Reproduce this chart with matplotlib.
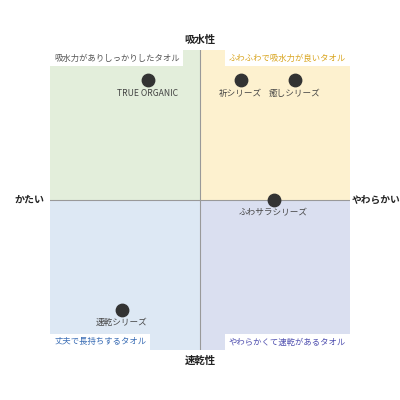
import matplotlib
matplotlib.use("Agg")
import matplotlib.pyplot as plt

plt.rcParams['font.family'] = ['Noto Sans CJK JP', 'DejaVu Sans']

names = ["TRUE ORGANIC", "祈シリーズ", "癒しシリーズ", "ふわサラシリーズ", "速乾シリーズ"]
xs = [-35, 27, 63, 49, -52]
ys = [80, 80, 80, 0, -73]

quad_labels = ["吸水力がありしっかりしたタオル", "ふわふわで吸水力が良いタオル",
               "丈夫で長持ちするタオル", "やわらかくて速乾があるタオル"]
quad_colors = ["#e3eedb", "#fdf1cf", "#dde8f4", "#dadff0"]
quad_text_colors = ["#555555", "#d9a520", "#3a6db5", "#5050b0"]
axis_labels = ["吸水性", "速乾性", "かたい", "やわらかい"]

fig = plt.figure(figsize=(4, 4), dpi=100)
ax = fig.add_axes([0.125, 0.125, 0.75, 0.75])
ax.set_xlim(-100, 100)
ax.set_ylim(-100, 100)
ax.axis('off')

rects = [(-100, 0), (0, 0), (-100, -100), (0, -100)]
for (rx, ry), c in zip(rects, quad_colors):
    ax.add_patch(plt.Rectangle((rx, ry), 100, 100, facecolor=c, edgecolor='none', zorder=0))
ax.axhline(0, color='#999999', lw=0.8, zorder=1)
ax.axvline(0, color='#999999', lw=0.8, zorder=1)

box = dict(boxstyle='square,pad=0.45', facecolor='white', edgecolor='none')
pos = [(-97.3, 94.6, 'left', 'center'), (97.3, 94.6, 'right', 'center'),
       (-97.3, -94.6, 'left', 'center'), (97.3, -94.6, 'right', 'center')]
for (px, py, ha, va), t, tc in zip(pos, quad_labels, quad_text_colors):
    ax.text(px, py, t, ha=ha, va=va, fontsize=6, color=tc, bbox=box, zorder=3)

ax.scatter(xs, ys, s=80, color='#333333', zorder=4)
for x, y, n in zip(xs, ys, names):
    ax.text(x, y - 8.8, n, ha='center', va='center', fontsize=6.2, color='#444444', zorder=4)

ax.text(0, 107, axis_labels[0], ha='center', va='center', fontsize=7.5, fontweight='bold', color='#222222', clip_on=False)
ax.text(0, -107, axis_labels[1], ha='center', va='center', fontsize=7.5, fontweight='bold', color='#222222', clip_on=False)
ax.text(-104, 0, axis_labels[2], ha='right', va='center', fontsize=7.2, fontweight='bold', color='#222222', clip_on=False)
ax.text(101.3, 0, axis_labels[3], ha='left', va='center', fontsize=7, fontweight='bold', color='#222222', clip_on=False)

fig.savefig("out.png", dpi=100)
